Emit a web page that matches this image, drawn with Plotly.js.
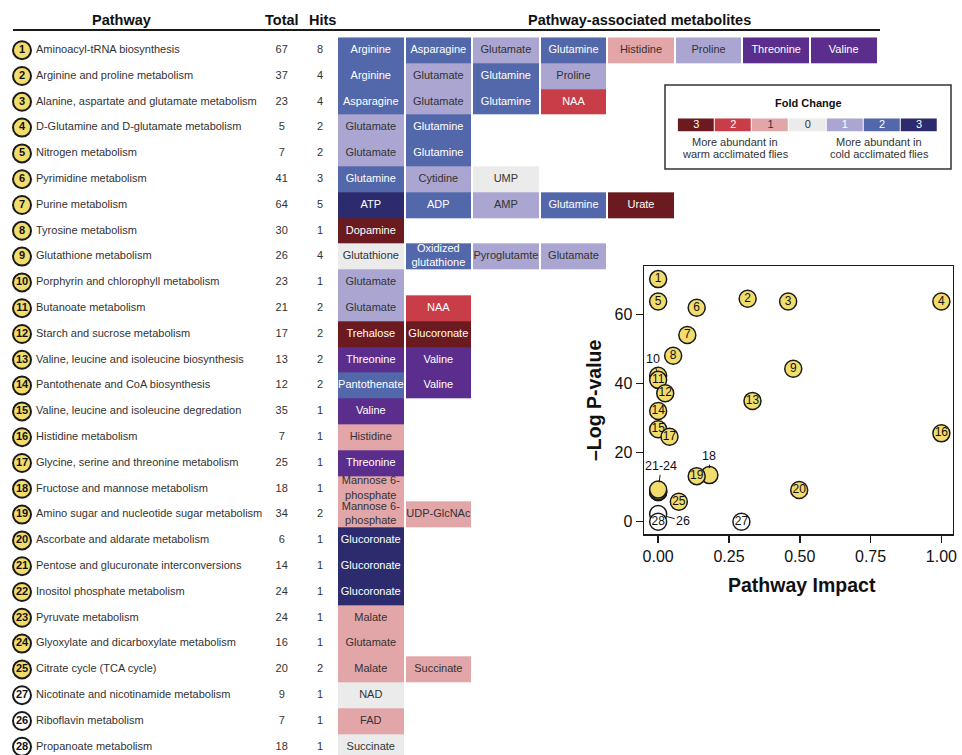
<!DOCTYPE html>
<html>
<head>
<meta charset="utf-8">
<script src="https://cdn.plot.ly/plotly-3.0.1.min.js"></script>
<style>
  html, body { margin: 0; padding: 0; background: #fff; }
  #chart { width: 962px; height: 755px; }
</style>
</head>
<body>
<div id="chart"></div>
<script>
// ---- Pathway table (in display order) ----
const pathwayNo = [1, 2, 3, 4, 5, 6, 7, 8, 9, 10, 11, 12, 13, 14, 15, 16, 17, 18, 19, 20, 21, 22, 23, 24, 25, 27, 26, 28];

const pathways = [
  "Aminoacyl-tRNA biosynthesis",
  "Arginine and proline metabolism",
  "Alanine, aspartate and glutamate metabolism",
  "D-Glutamine and D-glutamate metabolism",
  "Nitrogen metabolism",
  "Pyrimidine metabolism",
  "Purine metabolism",
  "Tyrosine metabolism",
  "Glutathione metabolism",
  "Porphyrin and chlorophyll metabolism",
  "Butanoate metabolism",
  "Starch and sucrose metabolism",
  "Valine, leucine and isoleucine biosynthesis",
  "Pantothenate and CoA biosynthesis",
  "Valine, leucine and isoleucine degredation",
  "Histidine metabolism",
  "Glycine, serine and threonine metabolism",
  "Fructose and mannose metabolism",
  "Amino sugar and nucleotide sugar metabolism",
  "Ascorbate and aldarate metabolism",
  "Pentose and glucuronate interconversions",
  "Inositol phosphate metabolism",
  "Pyruvate metabolism",
  "Glyoxylate and dicarboxylate metabolism",
  "Citrate cycle (TCA cycle)",
  "Nicotinate and nicotinamide metabolism",
  "Riboflavin metabolism",
  "Propanoate metabolism"
];

const totals = [67, 37, 23, 5, 7, 41, 64, 30, 26, 23, 21, 17, 13, 12, 35, 7, 25, 18, 34, 6, 14, 24, 24, 16, 20, 9, 7, 18];
const hits   = [8, 4, 4, 2, 2, 3, 5, 1, 4, 1, 2, 2, 2, 2, 1, 1, 1, 1, 2, 1, 1, 1, 1, 1, 2, 1, 1, 1];

// Pathway-associated metabolites for each row
const metabolites = [
  ["Arginine", "Asparagine", "Glutamate", "Glutamine", "Histidine", "Proline", "Threonine", "Valine"],
  ["Arginine", "Glutamate", "Glutamine", "Proline"],
  ["Asparagine", "Glutamate", "Glutamine", "NAA"],
  ["Glutamate", "Glutamine"],
  ["Glutamate", "Glutamine"],
  ["Glutamine", "Cytidine", "UMP"],
  ["ATP", "ADP", "AMP", "Glutamine", "Urate"],
  ["Dopamine"],
  ["Glutathione", "Oxidized<br>glutathione", "Pyroglutamte", "Glutamate"],
  ["Glutamate"],
  ["Glutamate", "NAA"],
  ["Trehalose", "Glucoronate"],
  ["Threonine", "Valine"],
  ["Pantothenate", "Valine"],
  ["Valine"],
  ["Histidine"],
  ["Threonine"],
  ["Mannose 6-<br>phosphate"],
  ["Mannose 6-<br>phosphate", "UDP-GlcNAc"],
  ["Glucoronate"],
  ["Glucoronate"],
  ["Glucoronate"],
  ["Malate"],
  ["Glutamate"],
  ["Malate", "Succinate"],
  ["NAD"],
  ["FAD"],
  ["Succinate"]
];

// Fold change class of each metabolite cell:
// negative = more abundant in warm acclimated flies, positive = cold, 0 = no change,
// 4 = the purple class (Threonine / Valine)
const foldClass = [
  [2, 2, 1, 2, -1, 1, 4, 4],
  [2, 1, 2, 1],
  [2, 1, 2, -2],
  [1, 2],
  [1, 2],
  [2, 1, 0],
  [3, 2, 1, 2, -3],
  [-3],
  [0, 2, 1, 1],
  [1],
  [1, -2],
  [-3, -3],
  [4, 4],
  [2, 4],
  [4],
  [-1],
  [4],
  [-1],
  [-1, -1],
  [3],
  [3],
  [3],
  [-1],
  [-1],
  [-1, -1],
  [0],
  [-1],
  [0]
];

// ---- Pathway impact scatter ----
const impact   = [0.0, 0.316, 0.459, 1.0, 0.0, 0.136, 0.103, 0.053, 0.477, 0.0, 0.0, 0.025, 0.333, 0.0,
                  0.0, 1.0, 0.04, 0.181, 0.136, 0.498, 0.0, 0.0, 0.0, 0.0, 0.073, 0.294, 0.0, 0.0];
const negLogP  = [70.3, 64.6, 63.8, 63.8, 63.8, 62.0, 54.1, 48.1, 44.3, 42.3, 41.1, 37.2, 35.0, 32.1,
                  26.8, 25.6, 24.6, 13.5, 13.2, 9.2, 8.6, 8.6, 8.9, 9.3, 5.8, 0.0, 2.2, 0.0];
const significant = pathwayNo.map(n => n <= 25);

// ---- Fold change key ----
const foldKeyValues = [-3, -2, -1, 0, 1, 2, 3];
const foldKeyLabels = ["3", "2", "1", "0", "1", "2", "3"];

// ---------------------------------------------------------------
const W = 962, H = 755;
const FONT = "Liberation Sans, Arial, Helvetica, sans-serif";
const YELLOW = "#f1dc6c";
const INK = "#1a1a1a";
const TEXT = "#333333";

const classColor = {
  "-3": "#6b1b1f", "-2": "#c83d47", "-1": "#e2a5a8", "0": "#ebebeb",
  "1": "#aaa6d1", "2": "#5367ab", "3": "#2c2b6d", "4": "#5b2d8d"
};
const classOrder = [-3, -2, -1, 0, 1, 2, 3, 4];
const ZMIN = -3.5, ZMAX = 4.5;
const colorscale = [];
classOrder.forEach((c, i) => {
  colorscale.push([i / classOrder.length, classColor[c]]);
  colorscale.push([(i + 1) / classOrder.length, classColor[c]]);
});
const darkText = c => (c === -1 || c === 0 || c === 1);

const px = x => x / W;
const py = y => 1 - y / H;

// table geometry (pixels)
const rowTop = 37.3, rowPitch = 25.8;
const rowAxisBottom = 0.5 + (H - rowTop) / rowPitch;
const cellLeft = 337, cellRight = 877.5, nCols = 8;
const xCircle = 22, xName = 36, xTotal = 281.7, xHits = 320;

const rows = pathwayNo.map((_, i) => i + 1);
const cols = Array.from({ length: nCols }, (_, j) => j + 1);

// heatmap matrix
const z = rows.map((_, i) => cols.map((_, j) => (j < foldClass[i].length ? foldClass[i][j] : null)));

// cell labels
const cellX = [], cellY = [], cellText = [], cellColor = [];
metabolites.forEach((list, i) => {
  list.forEach((m, j) => {
    cellX.push(j + 1);
    cellY.push(i + 1);
    cellText.push(m);
    cellColor.push(darkText(foldClass[i][j]) ? TEXT : "#ffffff");
  });
});

const traces = [];

// metabolite cells
traces.push({
  type: "heatmap", xaxis: "x2", yaxis: "y",
  x: cols, y: rows, z: z,
  colorscale: colorscale, zmin: ZMIN, zmax: ZMAX,
  showscale: false, xgap: 2, ygap: 0,
  hoverinfo: "skip", hoverongaps: false
});
traces.push({
  type: "scatter", mode: "text", xaxis: "x2", yaxis: "y",
  x: cellX, y: cellY, text: cellText,
  textposition: "middle center",
  textfont: { family: FONT, size: 11, color: cellColor },
  cliponaxis: false, hoverinfo: "skip"
});

// numbered circles
traces.push({
  type: "scatter", mode: "markers+text", xaxis: "x", yaxis: "y",
  x: rows.map(() => xCircle), y: rows,
  text: pathwayNo.map(n => "<b>" + n + "</b>"),
  textposition: "middle center",
  textfont: { family: FONT, size: 11, color: "#111" },
  marker: { size: 18, color: significant.map(s => (s ? YELLOW : "#ffffff")), line: { width: 2, color: INK } },
  cliponaxis: false, hoverinfo: "skip"
});
// pathway names
traces.push({
  type: "scatter", mode: "text", xaxis: "x", yaxis: "y",
  x: rows.map(() => xName), y: rows, text: pathways,
  textposition: "middle right",
  textfont: { family: FONT, size: 11, color: TEXT },
  cliponaxis: false, hoverinfo: "skip"
});
// totals and hits
traces.push({
  type: "scatter", mode: "text", xaxis: "x", yaxis: "y",
  x: rows.map(() => xTotal), y: rows, text: totals.map(String),
  textposition: "middle center",
  textfont: { family: FONT, size: 11, color: TEXT },
  cliponaxis: false, hoverinfo: "skip"
});
traces.push({
  type: "scatter", mode: "text", xaxis: "x", yaxis: "y",
  x: rows.map(() => xHits), y: rows, text: hits.map(String),
  textposition: "middle center",
  textfont: { family: FONT, size: 11, color: TEXT },
  cliponaxis: false, hoverinfo: "skip"
});

// impact vs -log p scatter; a few points are labelled outside their circle
const labelledOutside = [10, 18, 21, 22, 23, 24, 26];
traces.push({
  type: "scatter", mode: "markers+text", xaxis: "x3", yaxis: "y3",
  x: impact, y: negLogP,
  text: pathwayNo.map(n => (labelledOutside.includes(n) ? "" : String(n))),
  textposition: "middle center",
  textfont: { family: FONT, size: 12, color: "#111" },
  marker: { size: 17, color: significant.map(s => (s ? YELLOW : "#ffffff")), line: { width: 1.5, color: INK } },
  cliponaxis: false, hoverinfo: "skip"
});

// fold change key
traces.push({
  type: "heatmap", xaxis: "x4", yaxis: "y4",
  x: foldKeyValues.map((_, i) => i), y: [0], z: [foldKeyValues],
  colorscale: colorscale, zmin: ZMIN, zmax: ZMAX,
  showscale: false, xgap: 1, hoverinfo: "skip"
});
traces.push({
  type: "scatter", mode: "text", xaxis: "x4", yaxis: "y4",
  x: foldKeyValues.map((_, i) => i), y: foldKeyValues.map(() => 0),
  text: foldKeyLabels, textposition: "middle center",
  textfont: { family: FONT, size: 11, color: foldKeyValues.map(v => (v === -1 || v === 0 ? TEXT : "#ffffff")) },
  cliponaxis: false, hoverinfo: "skip"
});

function note(text, x, y, size, extra) {
  return Object.assign({
    xref: "paper", yref: "paper", x: px(x), y: py(y), text: text,
    showarrow: false, xanchor: "center", yanchor: "middle",
    font: { family: FONT, size: size, color: "#111" }
  }, extra || {});
}
function leader(text, x, y, ax, ay, standoff) {
  return {
    xref: "x3", yref: "y3", x: x, y: y, text: text,
    showarrow: true, arrowhead: 0, arrowwidth: 1, arrowcolor: INK,
    ax: ax, ay: ay, standoff: standoff,
    font: { family: FONT, size: 12.5, color: "#111" }
  };
}

const annotations = [
  note("<b>Pathway</b>", 121.7, 20, 14.5),
  note("<b>Total</b>", 281.7, 20, 14.5),
  note("<b>Hits</b>", 322, 20, 14.5),
  note("<b>Pathway-associated metabolites</b>", 639, 20, 14.5),
  note("<b>Fold Change</b>", 808, 102.5, 11),
  note("More abundant in", 735, 141.7, 11, { font: { family: FONT, size: 11, color: TEXT } }),
  note("warm acclimated flies", 735, 154.2, 11, { font: { family: FONT, size: 11, color: TEXT } }),
  note("More abundant in", 879, 141.7, 11, { font: { family: FONT, size: 11, color: TEXT } }),
  note("cold acclimated flies", 879, 154.2, 11, { font: { family: FONT, size: 11, color: TEXT } }),
  note("<b>–Log P-value</b>", 594, 400, 19.5, { textangle: -90 }),
  note("<b>Pathway Impact</b>", 801.7, 585, 19.5),
  leader("10", 0, 42.3, -5, -17, 5),
  leader("18", 0.181, 13.5, 0, -19, 7),
  leader("21-24", 0, 8.8, 3, -25, 9),
  leader("26", 0, 2.2, 25, 7, 9)
];

const shapes = [
  { type: "line", xref: "paper", yref: "paper", x0: px(13), x1: px(880), y0: py(30), y1: py(30),
    line: { color: INK, width: 2 } },
  { type: "rect", xref: "paper", yref: "paper", x0: px(665), x1: px(951), y0: py(85), y1: py(169),
    line: { color: "#333", width: 1.5 }, fillcolor: "rgba(0,0,0,0)" }
];

const axisStyle = {
  showline: true, linecolor: INK, linewidth: 1.5, mirror: true,
  ticks: "outside", ticklen: 7, tickwidth: 1.5, tickcolor: INK,
  showgrid: false, zeroline: false,
  tickfont: { family: FONT, size: 16, color: "#111" }
};

const layout = {
  width: W, height: H,
  margin: { l: 0, r: 0, t: 0, b: 0 },
  paper_bgcolor: "#ffffff", plot_bgcolor: "rgba(0,0,0,0)",
  showlegend: false,
  xaxis: { domain: [0, 1], range: [0, W], visible: false, fixedrange: true },
  yaxis: { domain: [0, (H - rowTop) / H], range: [rowAxisBottom, 0.5], visible: false, fixedrange: true },
  xaxis2: { domain: [px(cellLeft), px(cellRight)], range: [0.5, nCols + 0.5], anchor: "y", visible: false },
  xaxis3: Object.assign({}, axisStyle, {
    domain: [px(644), px(952.7)], anchor: "y3",
    range: [-0.05, 1.04], tickvals: [0, 0.25, 0.5, 0.75, 1], tickformat: ".2f"
  }),
  yaxis3: Object.assign({}, axisStyle, {
    domain: [py(534), py(266)], anchor: "x3",
    range: [-3.57, 74.1], tickvals: [0, 20, 40, 60]
  }),
  xaxis4: { domain: [px(677.7), px(937.7)], anchor: "y4", range: [-0.5, 6.5], visible: false },
  yaxis4: { domain: [py(131.7), py(118.3)], anchor: "x4", range: [-0.5, 0.5], visible: false },
  annotations: annotations,
  shapes: shapes
};

Plotly.newPlot("chart", traces, layout, { staticPlot: true, displayModeBar: false });
</script>
</body>
</html>
